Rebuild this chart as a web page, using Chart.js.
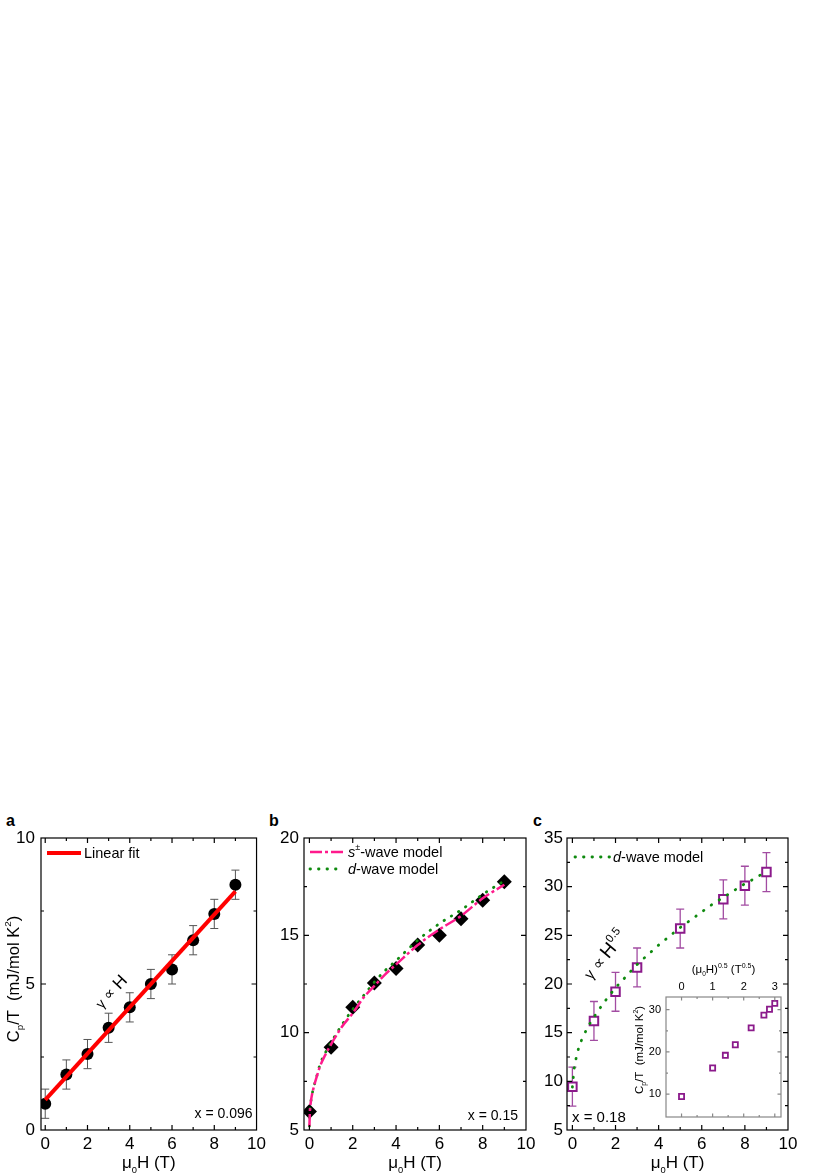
<!DOCTYPE html>
<html lang="en">
  <head>
    <meta charset="UTF-8" />
    <title>Cp/T versus field</title>
    <script src="https://cdn.jsdelivr.net/npm/chart.js"></script>
    <style>
      * {
        margin: 0;
        padding: 0;
        box-sizing: border-box;
      }

      body {
        width: 830px;
        height: 1175px;
        background: #fff;
        position: relative;
        overflow: hidden;
        font-family: "Liberation Sans", Arial, sans-serif;
      }

      canvas {
        position: absolute;
      }

      .tag {
        position: absolute;
        font-weight: bold;
        font-size: 16px;
        line-height: 1;
      }
    </style>
  </head>
  <body>
    <div class="tag" style="left: 6px; top: 813px">a</div>
    <div class="tag" style="left: 269px; top: 813px">b</div>
    <div class="tag" style="left: 533px; top: 813px">c</div>

    <canvas id="chartA" width="270" height="395" style="left: 0; top: 780px"></canvas>
    <canvas id="chartB" width="270" height="395" style="left: 270px; top: 780px"></canvas>
    <canvas id="chartC" width="290" height="395" style="left: 540px; top: 780px"></canvas>
    <canvas id="chartInset" width="175" height="190" style="left: 620px; top: 940px"></canvas>

    <script>
      // ---- data ----
      // panel a, x = 0.096
      const fieldA = [0, 1, 2, 3, 4, 5, 6, 7, 8, 9];
      const gammaA = [0.9, 1.9, 2.6, 3.5, 4.2, 5.0, 5.5, 6.5, 7.4, 8.4];
      const errA = [0.5, 0.5, 0.5, 0.5, 0.5, 0.5, 0.5, 0.5, 0.5, 0.5];
      const fitFieldA = [0, 9];
      const fitGammaA = [1.03, 8.17];

      // panel b, x = 0.15
      const fieldB = [0, 1, 2, 3, 4, 5, 6, 7, 8, 9];
      const gammaB = [5.95, 9.25, 11.3, 12.55, 13.3, 14.5, 15.0, 15.85, 16.8, 17.75];
      const modelFieldB = [0, 0.02, 0.05, 0.1, 0.2, 0.3, 0.5, 0.75, 1, 1.5, 2, 2.5, 3, 3.5, 4, 5, 6, 7, 8, 9];
      const sWaveB = [5.2, 5.9, 6.3, 6.7, 7.2, 7.6, 8.3, 8.9, 9.4, 10.3, 11.0, 11.8, 12.4, 13.0, 13.5, 14.5, 15.3, 16.0, 16.9, 17.6];
      const dWaveB = [5.2, 5.9, 6.3, 6.7, 7.2, 7.6, 8.4, 9.0, 9.5, 10.4, 11.2, 11.9, 12.6, 13.2, 13.7, 14.75, 15.6, 16.3, 17.1, 17.8];

      // panel c, x = 0.18
      const fieldC = [0, 1, 2, 3, 5, 7, 8, 9];
      const gammaC = [9.45, 16.2, 19.2, 21.7, 25.7, 28.7, 30.1, 31.5];
      const errC = [2, 2, 2, 2, 2, 2, 2, 2];
      const modelFieldC = [0, 0.05, 0.1, 0.2, 0.3, 0.5, 0.75, 1, 1.5, 2, 2.5, 3, 3.5, 4, 4.5, 5, 5.5, 6, 6.5, 7, 7.5, 8, 8.5, 9];
      const dWaveC = [9.4, 10.6, 11.6, 12.6, 13.5, 14.6, 15.7, 16.6, 18.2, 19.6, 20.8, 22.0, 23.0, 24.0, 24.9, 25.8, 26.6, 27.4, 28.2, 28.9, 29.6, 30.3, 30.9, 31.6];
      // inset: same points against sqrt(field)
      const sqrtFieldC = [0, 1, 1.41, 1.73, 2.24, 2.65, 2.83, 3];

      // tick labels
      const xTicks = [0, 2, 4, 6, 8, 10];
      const yTicksA = [0, 5, 10];
      const yTicksB = [5, 10, 15, 20];
      const yTicksC = [5, 10, 15, 20, 25, 30, 35];
      const xTicksInset = [0, 1, 2, 3];
      const yTicksInset = [10, 20, 30];

      const FONT = '"Liberation Sans", Arial, Helvetica, sans-serif';
      const RED = "#ff0000";
      const PINK = "#ff1a8c";
      const GREEN = "#0f8a0f";
      const PURPLE = "#8b1a8b";

      function fontStr(size, italic) {
        return (italic ? "italic " : "") + size + "px " + FONT;
      }

      // parts: [text, size, dy, italic]
      function drawRich(ctx, parts, x, y, rot, align, shift) {
        ctx.save();
        ctx.translate(x, y);
        ctx.rotate(((rot || 0) * Math.PI) / 180);
        ctx.textAlign = "left";
        ctx.textBaseline = "alphabetic";
        ctx.fillStyle = "#000";
        const widths = parts.map((p) => {
          ctx.font = fontStr(p[1], p[3]);
          return ctx.measureText(p[0]).width;
        });
        const total = widths.reduce((s, w) => s + w, 0);
        let cx = align === "center" ? -total / 2 : align === "right" ? -total : 0;
        parts.forEach((p, i) => {
          ctx.font = fontStr(p[1], p[3]);
          ctx.fillText(p[0], cx, (p[2] || 0) + (shift || 0));
          cx += widths[i];
        });
        ctx.restore();
      }

      function yTitle(s) {
        return [["C", s], ["p", s * 0.6, s * 0.3], ["/T  (mJ/mol K", s], ["2", s * 0.6, -s * 0.45], [")", s]];
      }

      function xTitle(s) {
        return [["\u03bc", s], ["0", s * 0.55, s * 0.3], ["H (T)", s]];
      }

      function legendLine(ctx, x1, x2, y, color, width, dash, cap) {
        ctx.save();
        ctx.strokeStyle = color;
        ctx.lineWidth = width;
        ctx.lineCap = cap || "butt";
        ctx.setLineDash(dash || []);
        ctx.beginPath();
        ctx.moveTo(x1, y);
        ctx.lineTo(x2, y);
        ctx.stroke();
        ctx.restore();
      }

      // box round the plot with inward major and minor ticks on all sides
      function makeFrame(xt, yt, color, major, minor) {
        return {
          id: "frame",
          afterDatasetsDraw(chart) {
            const { ctx, chartArea: a } = chart;
            const xs = chart.scales.x;
            const ys = chart.scales.y;
            const mid = (arr) => arr.slice(1).map((v, i) => (v + arr[i]) / 2);
            ctx.save();
            ctx.strokeStyle = color;
            ctx.lineWidth = 1.2;
            ctx.strokeRect(a.left, a.top, a.right - a.left, a.bottom - a.top);
            ctx.beginPath();
            const tx = (vals, len) =>
              vals.forEach((v) => {
                const p = xs.getPixelForValue(v);
                if (p < a.left + 1 || p > a.right - 1) return;
                ctx.moveTo(p, a.bottom);
                ctx.lineTo(p, a.bottom - len);
                ctx.moveTo(p, a.top);
                ctx.lineTo(p, a.top + len);
              });
            const ty = (vals, len) =>
              vals.forEach((v) => {
                const p = ys.getPixelForValue(v);
                if (p < a.top + 1 || p > a.bottom - 1) return;
                ctx.moveTo(a.left, p);
                ctx.lineTo(a.left + len, p);
                ctx.moveTo(a.right, p);
                ctx.lineTo(a.right - len, p);
              });
            tx(xt, major);
            tx(mid(xt), minor);
            ty(yt, major);
            ty(mid(yt), minor);
            ctx.stroke();
            ctx.restore();
          },
        };
      }

      function makeErrorBars(xv, yv, ev, color, width, cap) {
        return {
          id: "errbars",
          beforeDatasetsDraw(chart) {
            const { ctx } = chart;
            const xs = chart.scales.x;
            const ys = chart.scales.y;
            ctx.save();
            ctx.strokeStyle = color;
            ctx.lineWidth = width;
            ctx.beginPath();
            xv.forEach((x, i) => {
              const px = xs.getPixelForValue(x);
              const lo = ys.getPixelForValue(yv[i] - ev[i]);
              const hi = ys.getPixelForValue(yv[i] + ev[i]);
              ctx.moveTo(px, lo);
              ctx.lineTo(px, hi);
              ctx.moveTo(px - cap, lo);
              ctx.lineTo(px + cap, lo);
              ctx.moveTo(px - cap, hi);
              ctx.lineTo(px + cap, hi);
            });
            ctx.stroke();
            ctx.restore();
          },
        };
      }

      function makeDecor(draw) {
        return {
          id: "decor",
          afterDraw(chart) {
            draw(chart.ctx, chart.chartArea, chart.scales.x, chart.scales.y);
          },
        };
      }

      function points(xv, yv) {
        return xv.map((x, i) => ({ x: x, y: yv[i] }));
      }

      function axisOptions(min, max, ticks, size, pad, fitKey, fitVal, position) {
        return {
          type: "linear",
          position: position,
          min: min,
          max: max,
          grid: { display: false, drawTicks: false },
          border: { display: false },
          afterBuildTicks: (s) => {
            s.ticks = ticks.map((v) => ({ value: v }));
          },
          afterFit: (s) => {
            s[fitKey] = fitVal;
          },
          ticks: {
            color: "#000",
            font: { family: FONT, size: size },
            padding: pad,
            autoSkip: false,
            maxRotation: 0,
          },
        };
      }

      function baseOptions(padding, xAxis, yAxis) {
        return {
          responsive: false,
          animation: false,
          events: [],
          layout: { padding: padding },
          plugins: { legend: { display: false }, tooltip: { enabled: false } },
          scales: { x: xAxis, y: yAxis },
        };
      }

      // ---- panel a ----
      new Chart(document.getElementById("chartA"), {
        type: "scatter",
        data: {
          datasets: [
            {
              label: "Linear fit",
              data: points(fitFieldA, fitGammaA),
              showLine: true,
              borderColor: RED,
              borderWidth: 4,
              pointRadius: 0,
            },
            {
              label: "x = 0.096",
              data: points(fieldA, gammaA),
              pointStyle: "circle",
              pointRadius: 6,
              backgroundColor: "#000",
              borderColor: "#000",
              borderWidth: 0,
            },
          ],
        },
        options: baseOptions(
          { top: 58, right: 11, left: 0, bottom: 0 },
          axisOptions(-0.2, 10, xTicks, 17, 4, "height", 45, "bottom"),
          axisOptions(0, 10, yTicksA, 17, 6, "width", 41, "left")
        ),
        plugins: [
          makeErrorBars(fieldA, gammaA, errA, "#555", 1, 4),
          makeFrame(xTicks, yTicksA, "#000", 5, 3),
          makeDecor((ctx, a, xs, ys) => {
            drawRich(ctx, yTitle(16.5), a.left - 22.5, (a.top + a.bottom) / 2 - 5, -90, "center");
            drawRich(ctx, xTitle(17), (a.left + a.right) / 2, a.bottom + 38, 0, "center");
            legendLine(ctx, a.left + 6, a.left + 40, a.top + 15, RED, 4);
            drawRich(ctx, [["Linear fit", 14.5]], a.left + 43, a.top + 20, 0, "left");
            drawRich(ctx, [["\u03b3", 14], [" \u221d ", 15], ["H", 17]], xs.getPixelForValue(3.13), ys.getPixelForValue(4.73), -47, "center", 5);
            drawRich(ctx, [["x = 0.096", 14]], a.right - 4, a.bottom - 12, 0, "right");
          }),
        ],
      });

      // ---- panel b ----
      new Chart(document.getElementById("chartB"), {
        type: "scatter",
        data: {
          datasets: [
            {
              label: "s-wave model",
              data: points(modelFieldB, sWaveB),
              showLine: true,
              borderColor: PINK,
              borderWidth: 2.5,
              borderDash: [12, 3, 3, 3],
              pointRadius: 0,
              cubicInterpolationMode: "monotone",
            },
            {
              label: "d-wave model",
              data: points(modelFieldB, dWaveB),
              showLine: true,
              borderColor: GREEN,
              borderWidth: 2.8,
              borderDash: [0.5, 8],
              borderCapStyle: "round",
              pointRadius: 0,
              cubicInterpolationMode: "monotone",
            },
            {
              label: "x = 0.15",
              data: points(fieldB, gammaB),
              pointStyle: "rectRot",
              pointRadius: 7.5,
              backgroundColor: "#000",
              borderColor: "#000",
              borderWidth: 0,
            },
          ],
        },
        options: baseOptions(
          { top: 58, right: 14, left: 0, bottom: 0 },
          axisOptions(-0.25, 10, xTicks, 17, 4, "height", 45, "bottom"),
          axisOptions(5, 20, yTicksB, 17, 5, "width", 34, "left")
        ),
        plugins: [
          makeFrame(xTicks, yTicksB, "#000", 5, 3),
          makeDecor((ctx, a) => {
            drawRich(ctx, xTitle(17), (a.left + a.right) / 2, a.bottom + 38, 0, "center");
            legendLine(ctx, a.left + 6, a.left + 42, a.top + 14, PINK, 2.5, [12, 3, 3, 3]);
            drawRich(ctx, [["s", 14.5, 0, true], ["\u00b1", 9, -7], ["-wave model", 14.5]], a.left + 44, a.top + 19, 0, "left");
            legendLine(ctx, a.left + 6, a.left + 40, a.top + 31, GREEN, 2.8, [0.5, 8], "round");
            drawRich(ctx, [["d", 14.5, 0, true], ["-wave model", 14.5]], a.left + 44, a.top + 36, 0, "left");
            drawRich(ctx, [["x = 0.15", 14]], a.right - 8, a.bottom - 10, 0, "right");
          }),
        ],
      });

      // ---- panel c ----
      new Chart(document.getElementById("chartC"), {
        type: "scatter",
        data: {
          datasets: [
            {
              label: "d-wave model",
              data: points(modelFieldC, dWaveC),
              showLine: true,
              borderColor: GREEN,
              borderWidth: 2.8,
              borderDash: [0.5, 9],
              borderCapStyle: "round",
              pointRadius: 0,
              cubicInterpolationMode: "monotone",
            },
            {
              label: "x = 0.18",
              data: points(fieldC, gammaC),
              pointStyle: "rect",
              pointRadius: 6,
              backgroundColor: "#fff",
              borderColor: PURPLE,
              borderWidth: 2,
            },
          ],
        },
        options: baseOptions(
          { top: 58, right: 42, left: 0, bottom: 0 },
          axisOptions(-0.25, 10, xTicks, 17, 4, "height", 45, "bottom"),
          axisOptions(5, 35, yTicksC, 17, 4, "width", 27, "left")
        ),
        plugins: [
          makeErrorBars(fieldC, gammaC, errC, "#a24ca2", 1.3, 4),
          makeFrame(xTicks, yTicksC, "#000", 5, 3),
          makeDecor((ctx, a, xs, ys) => {
            drawRich(ctx, xTitle(17), (a.left + a.right) / 2, a.bottom + 38, 0, "center");
            legendLine(ctx, a.left + 8, a.left + 43, a.top + 19, GREEN, 2.8, [0.5, 8], "round");
            drawRich(ctx, [["d", 14.5, 0, true], ["-wave model", 14.5]], a.left + 46, a.top + 24, 0, "left");
            drawRich(ctx, [["\u03b3", 15], [" \u221d ", 16], ["H", 19], ["0.5", 11.5, -9]], xs.getPixelForValue(1.5), ys.getPixelForValue(23.0), -50, "center", 6);
            drawRich(ctx, [["x = 0.18", 15]], a.left + 5, a.bottom - 8, 0, "left");
          }),
        ],
      });

      // ---- inset of panel c ----
      new Chart(document.getElementById("chartInset"), {
        type: "scatter",
        data: {
          datasets: [
            {
              label: "x = 0.18",
              data: points(sqrtFieldC, gammaC),
              pointStyle: "rect",
              pointRadius: 3.6,
              backgroundColor: "#fff",
              borderColor: PURPLE,
              borderWidth: 1.8,
            },
          ],
        },
        options: baseOptions(
          { top: 0, right: 14, left: 0, bottom: 13 },
          axisOptions(-0.5, 3.2, xTicksInset, 11, 3, "height", 57, "top"),
          axisOptions(4.6, 33, yTicksInset, 11, 5, "width", 46, "left")
        ),
        plugins: [
          makeFrame(xTicksInset, yTicksInset, "#888", 3.5, 2),
          makeDecor((ctx, a) => {
            drawRich(ctx, yTitle(11.5), a.left - 23, (a.top + a.bottom) / 2 - 7, -90, "center");
            drawRich(
              ctx,
              [["(\u03bc", 11.5], ["0", 6.5, 3], ["H)", 11.5], ["0.5", 7, -5], [" (T", 11.5], ["0.5", 7, -5], [")", 11.5]],
              (a.left + a.right) / 2,
              a.top - 24,
              0,
              "center"
            );
          }),
        ],
      });
    </script>
  </body>
</html>
